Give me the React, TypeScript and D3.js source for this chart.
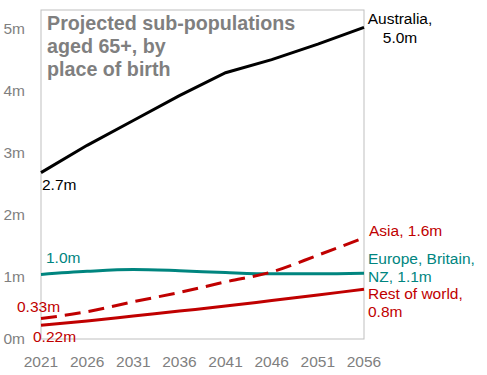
import React from "react";
import * as d3 from "d3";

const years = [2021, 2026, 2031, 2036, 2041, 2046, 2051, 2056];
const australia = [2.68, 3.12, 3.52, 3.92, 4.29, 4.5, 4.75, 5.02];
const europe = [1.04, 1.09, 1.12, 1.1, 1.07, 1.05, 1.05, 1.06];
const asia = [0.33, 0.44, 0.6, 0.75, 0.92, 1.08, 1.35, 1.63];
const restOfWorld = [0.22, 0.29, 0.37, 0.45, 0.53, 0.62, 0.71, 0.8];
const yTicks = [0, 1, 2, 3, 4, 5];
const yTickLabels = ["0m", "1m", "2m", "3m", "4m", "5m"];
const titleLines = ["Projected sub-populations", "aged 65+, by", "place of birth"];

const RED = "#C00000";
const TEAL = "#00857F";
const GREY = "#7F7F7F";
const FONT = "'Liberation Sans', Arial, sans-serif";

export default function App() {
  const W = 487, H = 375;
  const left = 41, right = 364, top = 10, bottom = 339;
  const x = d3.scaleLinear().domain([2021, 2056]).range([left, right]);
  const y = d3.scaleLinear().domain([0, 5.3]).range([bottom, top]);
  const mk = (curve: d3.CurveFactory) =>
    d3
      .line<number>()
      .x((_, i) => x(years[i]))
      .y((d) => y(d))
      .curve(curve);

  const series = [
    { data: australia, color: "#000", dash: undefined, curve: d3.curveLinear },
    { data: europe, color: TEAL, dash: undefined, curve: d3.curveMonotoneX },
    { data: restOfWorld, color: RED, dash: undefined, curve: d3.curveMonotoneX },
    { data: asia, color: RED, dash: "16,8", curve: d3.curveMonotoneX },
  ];

  const fs = 15.5;

  return (
    <svg width={W} height={H} style={{ position: "absolute", left: 0, top: 0 }} fontFamily={FONT}>
      <rect x={left} y={top} width={right - left} height={bottom - top} fill="none" stroke="#BFBFBF" strokeWidth={1} />
      {yTicks.map((t, i) => (
        <text key={t} x={25} y={y(t) + 5} textAnchor="end" fontSize={15.5} fill={GREY}>
          {yTickLabels[i]}
        </text>
      ))}
      {years.map((yr) => (
        <text key={yr} x={x(yr)} y={367} textAnchor="middle" fontSize={15.5} fill={GREY}>
          {yr}
        </text>
      ))}
      {titleLines.map((l, i) => (
        <text key={i} x={47} y={30 + i * 23} fontSize={19.7} fontWeight="bold" fill={GREY}>
          {l}
        </text>
      ))}
      {series.map((s, i) => (
        <path key={i} d={mk(s.curve)(s.data) || ""} fill="none" stroke={s.color} strokeWidth={3} strokeDasharray={s.dash} />
      ))}
      <text x={400} y={24} textAnchor="middle" fontSize={fs} fill="#000">Australia,</text>
      <text x={400} y={43} textAnchor="middle" fontSize={fs} fill="#000">5.0m</text>
      <text x={42} y={190} fontSize={fs} fill="#000">2.7m</text>
      <text x={46} y={263} fontSize={fs} fill={TEAL}>1.0m</text>
      <text x={17} y={312} fontSize={fs} fill={RED}>0.33m</text>
      <text x={33} y={342} fontSize={fs} fill={RED}>0.22m</text>
      <text x={369} y={236} fontSize={fs} fill={RED}>Asia, 1.6m</text>
      <text x={368} y={264} fontSize={fs} fill={TEAL}>Europe, Britain,</text>
      <text x={368} y={282} fontSize={fs} fill={TEAL}>NZ, 1.1m</text>
      <text x={368} y={299} fontSize={fs} fill={RED}>Rest of world,</text>
      <text x={368} y={317} fontSize={fs} fill={RED}>0.8m</text>
    </svg>
  );
}
